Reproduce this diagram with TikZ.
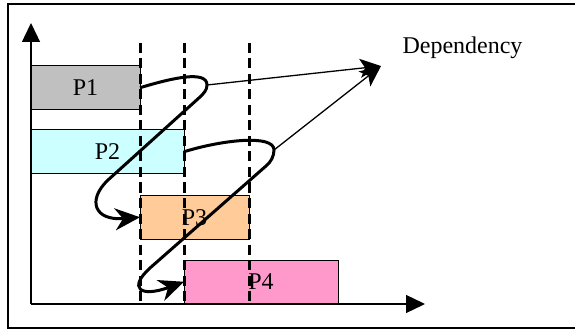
\documentclass[tikz,border=0pt]{standalone}
\usepackage{fontspec}
\setmainfont{Liberation Serif}
\usetikzlibrary{arrows.meta, positioning}

\definecolor{pgray}{HTML}{C0C0C0}
\definecolor{pcyan}{HTML}{CCFFFF}
\definecolor{porange}{HTML}{FFCC99}
\definecolor{ppink}{HTML}{FF99CC}

\tikzstyle{bar} = [rectangle, draw, line width=1pt, text centered, minimum height=43.5pt, inner sep=0pt, outer sep=0pt, font=\fontsize{24}{28}\selectfont]
\tikzstyle{axisline} = [line width=1.3pt, -{Triangle[length=19pt, width=18pt]}]
\tikzstyle{dashline} = [line width=3pt, dash pattern=on 10pt off 5.5pt]
\tikzstyle{flow} = [line width=3pt, -{Stealth[length=25pt, width=22pt, inset=8pt]}]
\tikzstyle{deparrow} = [line width=1.3pt, -{Stealth[length=21pt, width=19pt, inset=5pt]}]

\begin{document}
\begin{tikzpicture}[x=1pt, y=-1pt]
        \useasboundingbox (0,0) rectangle (575,331);
        % outer frame
        \draw [line width=1.5pt] (575,4) -- (8,4) -- (8,328) -- (575,328);

        % Axes
        \coordinate (origin) at (31,304);
        \coordinate (top) at (31,43);
        \draw [axisline] (origin) -- (31,23);
        \draw [axisline] (origin) -- (425,304);

        % Process bars, each one starts where the last one stops
        \node (p1) [bar, fill=pgray, minimum width=109pt, anchor=north west] at (31,66) {P1};
        \node (p2) [bar, fill=pcyan, minimum width=153pt, below=20.5pt of p1.south west, anchor=north west] {P2};
        \node (p3) [bar, fill=porange, minimum width=109pt, below=22pt of p2.south west, xshift=109pt, anchor=north west] {P3};
        \node (p4) [bar, fill=ppink, minimum width=154pt, below=21pt of p3.south west, xshift=44pt, anchor=north west] {P4};

        % Dashed time marks
        \draw [dashline] (p3.west |- top) -- (p3.west |- origin);
        \draw [dashline] (p4.west |- top) -- (p4.west |- origin);
        \draw [dashline] (p3.east |- top) -- (p3.east |- origin);

        % Dependency curves
        \coordinate (loop1) at (207,85);
        \coordinate (loop2) at (274,150);
        \coordinate (deptip) at (381,66);
        \draw [flow] (p1.east) .. controls (172,78) and (207,70) .. (loop1) .. controls (207,90) and (204,93) .. (200,97) -- (108,180) .. controls (87,200) and (94,221) .. (p3.west);
        \draw [flow] (p2.east) .. controls (222,140) and (274,134) .. (loop2) .. controls (274,156) and (271,162) .. (266,166) -- (150,268) .. controls (128,288) and (140,298) .. (p4.west);
        \draw [deparrow] (loop1) -- (deptip);
        \draw [deparrow] (loop2) -- (deptip);
        \node (deplabel) [anchor=base west, font=\fontsize{24}{28}\selectfont] at (399,54) {Dependency};
    \end{tikzpicture}
\end{document}
